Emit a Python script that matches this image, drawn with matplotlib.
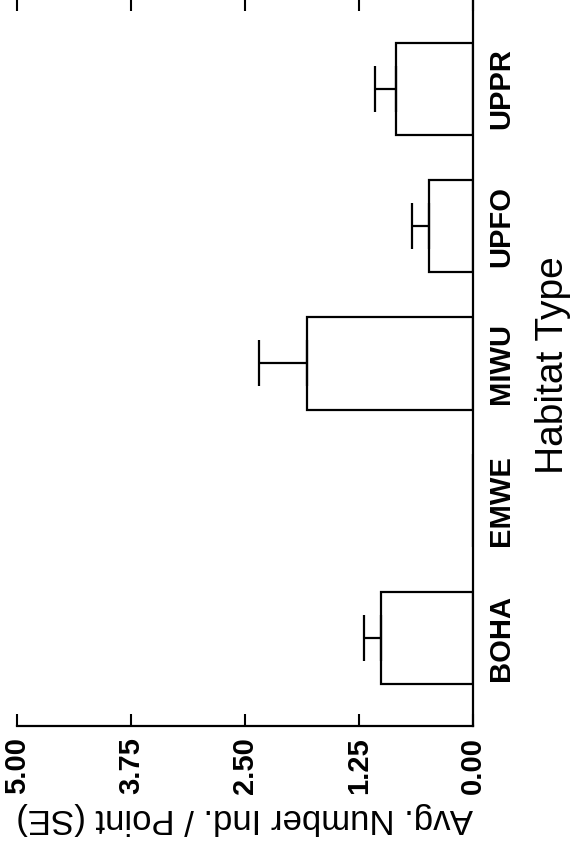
import matplotlib

matplotlib.use("Agg")
import matplotlib.pyplot as plt
import numpy as np

# Habitat categories, bottom to top in the (rotated) figure
habitats = ["BOHA", "EMWE", "MIWU", "UPFO", "UPPR"]
avg_number = [1.01, 0.0, 1.82, 0.48, 0.84]
std_err = [0.18, 0.0, 0.53, 0.19, 0.24]
value_ticks = [0.0, 1.25, 2.50, 3.75, 5.00]

plt.rcParams["font.family"] = ["Liberation Sans", "DejaVu Sans"]

W, H = 575, 849
fig = plt.figure(figsize=(W / 100, H / 100), dpi=100)
# page is rotated 90 deg: value axis runs right->left, categories bottom->top
ax = fig.add_axes([17 / W, 123 / H, (473 - 17) / W, 727 / H])

pos = np.arange(len(habitats))
vals = np.array(avg_number)
se = np.array(std_err)

ax.barh(pos, vals, height=0.674, color="white", edgecolor="black", linewidth=1.6, zorder=2)
m = se > 0
ax.errorbar(vals[m], pos[m], xerr=[np.zeros(m.sum()), se[m]], fmt="none",
            ecolor="black", elinewidth=1.6, capsize=16.5, capthick=1.6, zorder=3)

ax.set_xlim(5, 0)
ax.set_ylim(-0.641, 4.654)

ax.set_xticks(value_ticks)
ax.set_xticklabels([f"{t:.2f}" for t in value_ticks], rotation=90,
                   fontsize=21, fontweight="bold")
ax.tick_params(axis="x", direction="in", length=8.5, width=1.5, top=True, pad=8)

ax.yaxis.tick_right()
ax.set_yticks(pos)
ax.set_yticklabels(habitats, rotation=90, va="center", fontsize=21, fontweight="bold")
ax.tick_params(axis="y", length=0, pad=10)

# top edge of the page is cropped: only the tick marks show there
ax.spines["left"].set_visible(False)
ax.spines["top"].set_visible(False)
for s in ("right", "bottom"):
    ax.spines[s].set_linewidth(1.6)

fig.text(245 / W, 1 - 819 / H, "Avg. Number Ind. / Point (SE)", rotation=180,
         ha="center", va="center", fontsize=25)
fig.text(553 / W, 1 - 365 / H, "Habitat Type", rotation=90,
         ha="center", va="center", fontsize=28)

fig.savefig("out.png", dpi=100)
